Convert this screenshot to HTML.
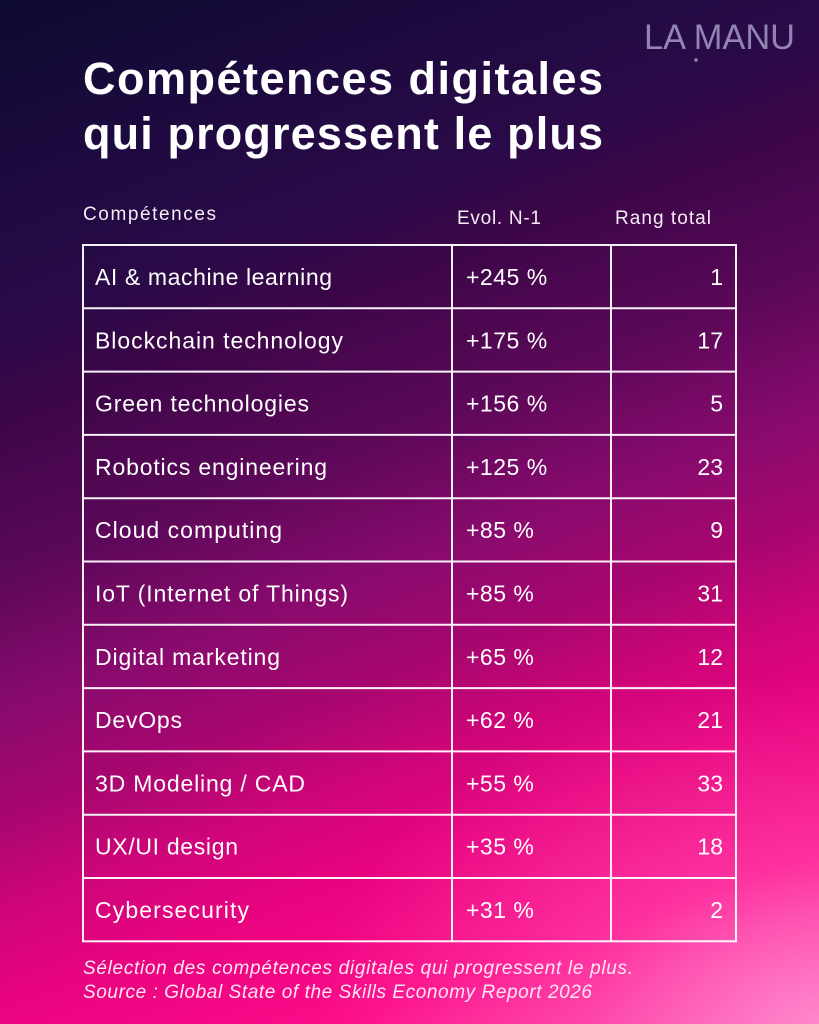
<!DOCTYPE html>
<html>
<head>
<meta charset="utf-8">
<style>
  html, body { margin: 0; padding: 0; }
  #wrap {
    width: 819px; height: 1024px; position: relative; overflow: hidden;
    background:
      radial-gradient(ellipse 62% 34% at 100% 100%, rgba(255,160,220,0.7) 0%, rgba(255,120,200,0.35) 45%, rgba(255,100,190,0) 100%),
      linear-gradient(160deg, #0d0a30 0%, #1c0a3e 13%, #2a0a48 25%, #3d0648 32%, #5a0858 43%, #8a0a6e 54%, #a8066f 62%, #cf0579 69%, #e8037f 76%, #fd0b89 87%, #ff4aa8 100%);
  }
  svg { position: absolute; left: 0; top: 0; }
  text { font-family: "Liberation Sans", sans-serif; fill: #ffffff; }
  .t { font-size: 45px; font-weight: bold; }
  .h { font-size: 19px; fill: #f6ecf6; }
  .r { font-size: 23px; }
  .v { font-size: 23px; letter-spacing: 0.5px; }
  .f { font-size: 19px; font-style: italic; fill: #ffe6f3; }
  .logo { font-size: 35px; fill: #9383b3; }
</style>
</head>
<body>
<div id="wrap">
<svg width="819" height="1024" viewBox="0 0 819 1024" xmlns="http://www.w3.org/2000/svg">
  <!-- Logo -->
  <text class="logo" x="644" y="49" textLength="151" lengthAdjust="spacingAndGlyphs">LA MANU</text>
  <circle cx="696" cy="60" r="1.8" fill="#9383b3"/>

  <!-- Title -->
  <text class="t" x="83" y="94" textLength="520" lengthAdjust="spacing">Compétences digitales</text>
  <text class="t" x="83" y="149" textLength="520" lengthAdjust="spacing">qui progressent le plus</text>

  <!-- Header -->
  <text class="h" x="83" y="220" textLength="133" lengthAdjust="spacing">Compétences</text>
  <text class="h" x="457" y="224" textLength="84" lengthAdjust="spacing">Evol. N-1</text>
  <text class="h" x="615" y="224" textLength="96" lengthAdjust="spacing">Rang total</text>

  <!-- Table grid -->
  <g stroke="#ffffff" stroke-width="2" fill="none" opacity="0.95">
    <rect x="83" y="245" width="653" height="696.3"/>
    <line x1="452" y1="245" x2="452" y2="941.3"/>
    <line x1="611" y1="245" x2="611" y2="941.3"/>
    <line x1="83" y1="308.3" x2="736" y2="308.3"/>
    <line x1="83" y1="371.6" x2="736" y2="371.6"/>
    <line x1="83" y1="434.9" x2="736" y2="434.9"/>
    <line x1="83" y1="498.2" x2="736" y2="498.2"/>
    <line x1="83" y1="561.5" x2="736" y2="561.5"/>
    <line x1="83" y1="624.8" x2="736" y2="624.8"/>
    <line x1="83" y1="688.1" x2="736" y2="688.1"/>
    <line x1="83" y1="751.4" x2="736" y2="751.4"/>
    <line x1="83" y1="814.7" x2="736" y2="814.7"/>
    <line x1="83" y1="878" x2="736" y2="878"/>
  </g>

  <!-- Rows -->
  <text class="r" x="95" y="285" textLength="237" lengthAdjust="spacing">AI &amp; machine learning</text>
  <text class="v" x="466" y="285">+245 %</text>
  <text class="r" x="723" y="285" text-anchor="end">1</text>

  <text class="r" x="95" y="348.3" textLength="248" lengthAdjust="spacing">Blockchain technology</text>
  <text class="v" x="466" y="348.3">+175 %</text>
  <text class="r" x="723" y="348.3" text-anchor="end">17</text>

  <text class="r" x="95" y="411.6" textLength="214" lengthAdjust="spacing">Green technologies</text>
  <text class="v" x="466" y="411.6">+156 %</text>
  <text class="r" x="723" y="411.6" text-anchor="end">5</text>

  <text class="r" x="95" y="474.9" textLength="232" lengthAdjust="spacing">Robotics engineering</text>
  <text class="v" x="466" y="474.9">+125 %</text>
  <text class="r" x="723" y="474.9" text-anchor="end">23</text>

  <text class="r" x="95" y="538.2" textLength="187" lengthAdjust="spacing">Cloud computing</text>
  <text class="v" x="466" y="538.2">+85 %</text>
  <text class="r" x="723" y="538.2" text-anchor="end">9</text>

  <text class="r" x="95" y="601.5" textLength="253" lengthAdjust="spacing">IoT (Internet of Things)</text>
  <text class="v" x="466" y="601.5">+85 %</text>
  <text class="r" x="723" y="601.5" text-anchor="end">31</text>

  <text class="r" x="95" y="664.8" textLength="185" lengthAdjust="spacing">Digital marketing</text>
  <text class="v" x="466" y="664.8">+65 %</text>
  <text class="r" x="723" y="664.8" text-anchor="end">12</text>

  <text class="r" x="95" y="728.1" textLength="87" lengthAdjust="spacing">DevOps</text>
  <text class="v" x="466" y="728.1">+62 %</text>
  <text class="r" x="723" y="728.1" text-anchor="end">21</text>

  <text class="r" x="95" y="791.4" textLength="210" lengthAdjust="spacing">3D Modeling / CAD</text>
  <text class="v" x="466" y="791.4">+55 %</text>
  <text class="r" x="723" y="791.4" text-anchor="end">33</text>

  <text class="r" x="95" y="854.7" textLength="143" lengthAdjust="spacing">UX/UI design</text>
  <text class="v" x="466" y="854.7">+35 %</text>
  <text class="r" x="723" y="854.7" text-anchor="end">18</text>

  <text class="r" x="95" y="918" textLength="154" lengthAdjust="spacing">Cybersecurity</text>
  <text class="v" x="466" y="918">+31 %</text>
  <text class="r" x="723" y="918" text-anchor="end">2</text>

  <!-- Footer -->
  <text class="f" x="83" y="974" textLength="550" lengthAdjust="spacing">Sélection des compétences digitales qui progressent le plus.</text>
  <text class="f" x="83" y="998" textLength="509" lengthAdjust="spacing">Source : Global State of the Skills Economy Report 2026</text>
</svg>
</div>
</body>
</html>
